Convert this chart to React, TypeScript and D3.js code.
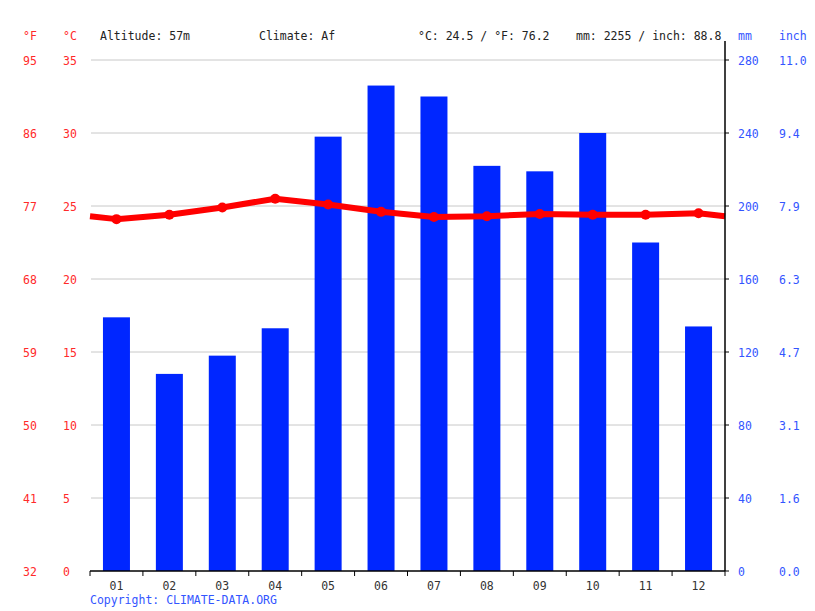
import * as d3 from 'd3'
import React from 'react'

const months = ['01', '02', '03', '04', '05', '06', '07', '08', '09', '10', '11', '12']
const precipMm = [139, 108, 118, 133, 238, 266, 260, 222, 219, 240, 180, 134]
const tempC = [24.1, 24.4, 24.9, 25.5, 25.1, 24.6, 24.25, 24.3, 24.45, 24.4, 24.4, 24.5]

const celsiusTicks = [0, 5, 10, 15, 20, 25, 30, 35]
const fahrenheitTicks = ['32', '41', '50', '59', '68', '77', '86', '95']
const mmTicks = [0, 40, 80, 120, 160, 200, 240, 280]
const inchTicks = ['0.0', '1.6', '3.1', '4.7', '6.3', '7.9', '9.4', '11.0']

const width = 815
const height = 611
const margin = { top: 60, right: 90, bottom: 40, left: 90 }
const innerW = 725 - margin.left
const innerH = 571 - margin.top

const font = '"DejaVu Sans Mono", monospace'
const red = '#ff0000'
const blue = '#0026ff'
const labelRed = '#ff2a2a'
const labelBlue = '#3355ff'

const App: React.FC = () => {
  const x = d3.scaleBand<string>().domain(months).range([0, innerW])
  const yT = d3.scaleLinear().domain([0, 35]).range([innerH, 0])
  const yP = d3.scaleLinear().domain([0, 280]).range([innerH, 0])

  const bw = x.bandwidth()
  const barW = 27

  // line runs to both edges, using the Dec/Jan mean there
  const edge = (tempC[0] + tempC[11]) / 2
  const linePts: [number, number][] = [
    [0, yT(edge)],
    ...tempC.map((t, i) => [(x(months[i]) || 0) + bw / 2, yT(t)] as [number, number]),
    [innerW, yT(edge)],
  ]
  const line = d3.line()(linePts) || ''

  return (
    <svg width={width} height={height} style={{ display: 'block', position: 'absolute', left: 0, top: 0 }}>
      <rect width={width} height={height} fill='#fff' />

      {/* header */}
      <g fontFamily={font} fontSize={11.5}>
        <text x={23} y={40} fill={labelRed}>°F</text>
        <text x={63} y={40} fill={labelRed}>°C</text>
        <text x={100} y={40} fill='#222'>Altitude: 57m</text>
        <text x={259} y={40} fill='#222'>Climate: Af</text>
        <text x={418} y={40} fill='#222'>°C: 24.5 / °F: 76.2</text>
        <text x={576} y={40} fill='#222'>mm: 2255 / inch: 88.8</text>
        <text x={738} y={40} fill={labelBlue}>mm</text>
        <text x={779} y={40} fill={labelBlue}>inch</text>
      </g>

      <g transform={`translate(${margin.left},${margin.top})`}>
        {/* gridlines */}
        {celsiusTicks.slice(1).map((t) => (
          <line key={t} x1={1} x2={innerW} y1={yT(t)} y2={yT(t)} stroke='#c8c8c8' strokeWidth={1} />
        ))}

        {/* bars */}
        {precipMm.map((p, i) => (
          <rect
            key={i}
            x={(x(months[i]) || 0) + (bw - barW) / 2}
            y={yP(p)}
            width={barW}
            height={innerH - yP(p)}
            fill={blue}
          />
        ))}

        {/* temperature */}
        <path d={line} fill='none' stroke={red} strokeWidth={6} strokeLinejoin='round' />
        {tempC.map((t, i) => (
          <circle key={i} cx={(x(months[i]) || 0) + bw / 2} cy={yT(t)} r={5} fill={red} />
        ))}

        {/* bottom axis */}
        <line x1={0} x2={innerW} y1={innerH} y2={innerH} stroke='#000' strokeWidth={1.5} />
        {months.map((m, i) => (
          <line key={m} x1={x(m) || 0} x2={x(m) || 0} y1={innerH} y2={innerH + 5} stroke='#000' />
        ))}
        <line x1={innerW} x2={innerW} y1={innerH} y2={innerH + 5} stroke='#000' />
        {months.map((m) => (
          <text
            key={m}
            x={(x(m) || 0) + bw / 2}
            y={innerH + 19}
            textAnchor='middle'
            fontFamily={font}
            fontSize={11.5}
            fill='#333'
          >
            {m}
          </text>
        ))}

        {/* right axis */}
        <line x1={innerW} x2={innerW} y1={-19} y2={innerH} stroke='#000' strokeWidth={1.5} />
        {mmTicks.map((t) => (
          <line key={t} x1={innerW} x2={innerW + 4} y1={yP(t)} y2={yP(t)} stroke='#000' />
        ))}

        <g fontFamily={font} fontSize={11.5} dominantBaseline='central'>
          {celsiusTicks.map((t, i) => (
            <g key={t}>
              <text x={23 - margin.left} y={yT(t) + 1} fill={labelRed}>{fahrenheitTicks[i]}</text>
              <text x={63 - margin.left} y={yT(t) + 1} fill={labelRed}>{t}</text>
            </g>
          ))}
          {mmTicks.map((t, i) => (
            <g key={t}>
              <text x={738 - margin.left} y={yP(t) + 1} fill={labelBlue}>{t}</text>
              <text x={779 - margin.left} y={yP(t) + 1} fill={labelBlue}>{inchTicks[i]}</text>
            </g>
          ))}
        </g>
      </g>

      <text x={90} y={604} fontFamily={font} fontSize={11.5} fill={labelBlue}>
        Copyright: CLIMATE-DATA.ORG
      </text>
    </svg>
  )
}

export default App
